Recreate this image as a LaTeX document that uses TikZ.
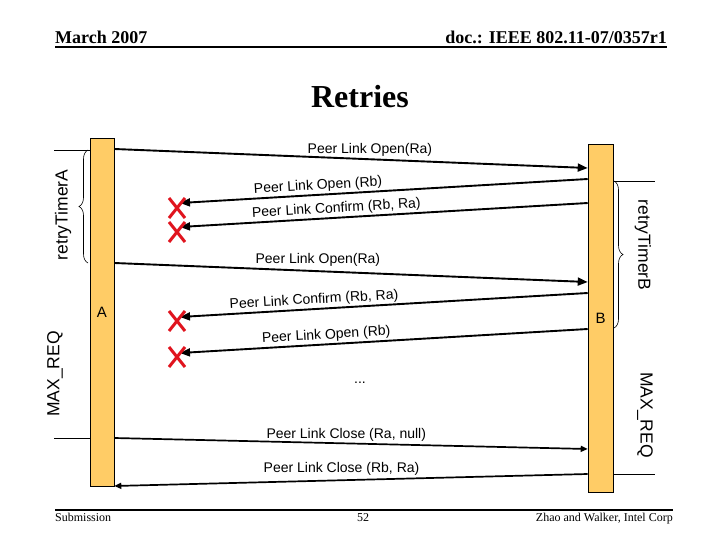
\documentclass[tikz,border=0pt]{standalone}
\usepackage{fontspec}
\setmainfont{Liberation Serif}
\newfontfamily\arialfont{Liberation Sans}
\usepackage{tikz}
\usetikzlibrary{arrows.meta, shapes.misc, decorations.pathreplacing, calc}
\definecolor{barfill}{HTML}{FFCC66}
\definecolor{lostred}{HTML}{E0141E}

\begin{document}
\begin{tikzpicture}[
  x=1pt, y=-1pt,
  lifeline/.style={rectangle, draw=black, line width=0.6pt, fill=barfill,
    minimum width=24pt, minimum height=348pt, inner sep=0pt,
    font=\arialfont\fontsize{15}{15}\selectfont},
  msg/.style={-{Triangle[length=10pt,width=8pt]}, line width=1.9pt},
  endmsg/.style={-{Triangle[length=7pt,width=6pt]}, line width=1.7pt},
  lbl/.style={font=\arialfont\fontsize{14}{14}\selectfont, inner sep=1.5pt},
  side/.style={font=\arialfont\fontsize{17.5}{17.5}\selectfont, inner sep=0pt},
  lost/.style={cross out, draw=lostred, line width=3pt,
    minimum width=13pt, minimum height=17pt, inner sep=0pt},
  tick/.style={line width=0.6pt},
  timer/.style={decorate, decoration={brace, amplitude=9pt}, line width=0.6pt}
]
  \useasboundingbox (0,0) rectangle (720,540);

  % page header and footer
  \node[anchor=base west, inner sep=0pt, font=\bfseries\fontsize{18}{18}\selectfont]
    (date) at (55,44) {March 2007};
  \node[anchor=base east, inner sep=0pt, font=\bfseries\fontsize{18}{18}\selectfont]
    (docid) at (667,44) {doc.: IEEE 802.11-07/0357r1};
  \draw[line width=2pt] (55,47.5) -- (667,47.5);
  \node[anchor=base, inner sep=0pt, font=\bfseries\fontsize{32}{32}\selectfont]
    (title) at (360,108) {Retries};
  \draw[line width=2pt] (55,510) -- (673,510);
  \node[anchor=base west, inner sep=0pt, font=\fontsize{12}{12}\selectfont]
    (subm) at (55,521) {Submission};
  \node[anchor=base, inner sep=0pt, font=\fontsize{12}{12}\selectfont]
    (page) at (363,521) {52};
  \node[anchor=base east, inner sep=0pt, font=\fontsize{12}{12}\selectfont]
    (authors) at (673,521) {Zhao and Walker, Intel Corp};

  % the two stations
  \node[lifeline] (A) at (102,312) {A};
  \node[lifeline, minimum width=25pt] (B) at (600.5,318) {B};

  % timers
  \draw[tick] (54,150) -- (A.west |- 0,150);
  \draw[timer] (88,263) -- (88,150);
  \node[side, rotate=90] (rtA) at (63,215) {retryTimerA};
  \draw[tick] (54,438) -- (A.west |- 0,438);
  \node[side, rotate=90] (maxA) at (55,374) {MAX\_REQ};
  \draw[tick] (B.east |- 0,181) -- (655,181);
  \draw[timer] (614,181) -- (614,328);
  \node[side, rotate=-90] (rtB) at (643,245) {retryTimerB};
  \draw[tick] (B.east |- 0,474) -- (655,474);
  \node[side, rotate=-90] (maxB) at (645,415) {MAX\_REQ};

  % frames lost on the way to A
  \coordinate (l1) at (180,203);
  \coordinate (l2) at (180,227);
  \coordinate (l3) at (180,317);
  \coordinate (l4) at (180,353);

  \draw[msg] (A.east |- 0,149) -- node[lbl, above, pos=0.54] {Peer Link Open(Ra)} (B.west |- 0,168);
  \draw[msg] (B.west |- 0,179) -- node[lbl, above, sloped, pos=0.66] {Peer Link Open (Rb)} (l1);
  \draw[msg] (B.west |- 0,203) -- node[lbl, above, sloped, pos=0.615] {Peer Link Confirm (Rb, Ra)} (l2);
  \draw[msg] (A.east |- 0,263) -- node[lbl, above, pos=0.43, yshift=2pt] {Peer Link Open(Ra)} (B.west |- 0,282);
  \draw[msg] (B.west |- 0,293) -- node[lbl, above, sloped, pos=0.67] {Peer Link Confirm (Rb, Ra)} (l3);
  \draw[msg] (B.west |- 0,329) -- node[lbl, above, sloped, pos=0.64] {Peer Link Open (Rb)} (l4);
  \node[lbl] (dots) at (360,383) {...};
  \draw[endmsg] (A.east |- 0,438) -- node[lbl, above, pos=0.49] {Peer Link Close (Ra, null)} (B.west |- 0,449);
  \draw[endmsg] (B.west |- 0,474) -- node[lbl, above, pos=0.52, yshift=2pt] {Peer Link Close (Rb, Ra)} (A.east |- 0,486);

  \node[lost] (x1) at (177,208) {};
  \node[lost] (x2) at (177,232) {};
  \node[lost] (x3) at (177,321) {};
  \node[lost] (x4) at (177,357) {};
\end{tikzpicture}
\end{document}
